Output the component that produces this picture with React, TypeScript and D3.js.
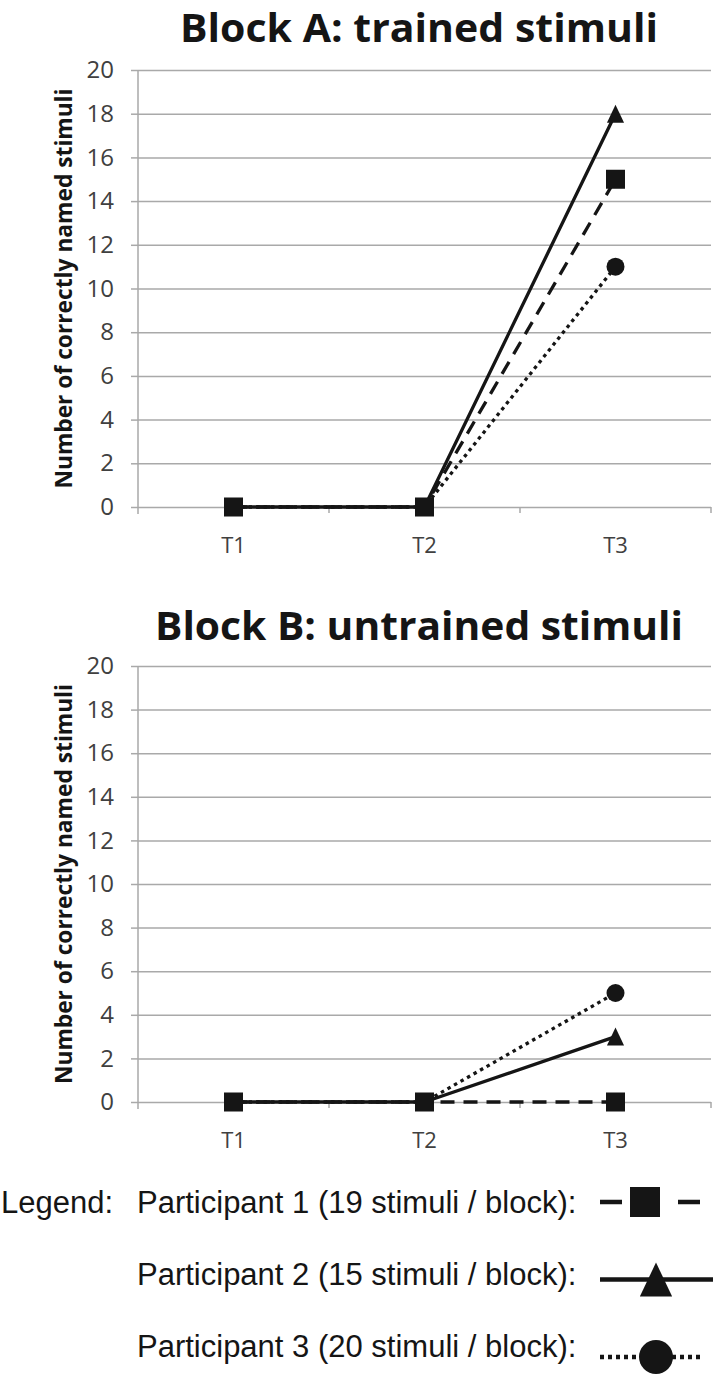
import React, { useRef, useEffect } from 'react';
import * as d3 from 'd3';

// categories on the x axis and the y ticks
const categories = ['T1', 'T2', 'T3'];
const yTicks = [0, 2, 4, 6, 8, 10, 12, 14, 16, 18, 20];

// Block A: trained stimuli
const blockA_p1 = [0, 0, 15];
const blockA_p2 = [0, 0, 18];
const blockA_p3 = [0, 0, 11];

// Block B: untrained stimuli
const blockB_p1 = [0, 0, 0];
const blockB_p2 = [0, 0, 3];
const blockB_p3 = [0, 0, 5];

const legendLabels = [
    'Participant 1 (19 stimuli / block):',
    'Participant 2 (15 stimuli / block):',
    'Participant 3 (20 stimuli / block):'
];

const INK = '#151515';
const GRID = '#a9a9a9';
const CHART_FONT = '"Open Sans", "DejaVu Sans", sans-serif';
const LEGEND_FONT = '"Liberation Sans", Arial, sans-serif';

// line style and marker per participant (index 0..2)
const lineStyles = [
    { dash: '14,9', marker: 'square' },
    { dash: null, marker: 'triangle' },
    { dash: '3.5,4', marker: 'circle' }
];

const triPath = (w, h) => `M0,${-h / 2}L${w / 2},${h / 2}L${-w / 2},${h / 2}Z`;

const drawMarker = (g, type, cx, cy, size) => {
    if (type === 'square') {
        g.append('rect')
            .attr('x', cx - size / 2).attr('y', cy - size / 2)
            .attr('width', size).attr('height', size)
            .attr('fill', INK);
    } else if (type === 'triangle') {
        g.append('path')
            .attr('d', triPath(size * 0.95, size))
            .attr('transform', `translate(${cx},${cy})`)
            .attr('fill', INK);
    } else {
        g.append('circle')
            .attr('cx', cx).attr('cy', cy).attr('r', size / 2)
            .attr('fill', INK);
    }
};

const drawPanel = (svg, { title, titleLen, titleY, top, bottom, series }) => {
    const left = 138;
    const right = 711;
    const x = d3.scaleBand().domain(categories).range([left, right]);
    const y = d3.scaleLinear().domain([0, 20]).range([bottom, top]);
    const cx = d => x(d) + x.bandwidth() / 2;

    const g = svg.append('g');

    // title
    g.append('text')
        .attr('x', 419).attr('y', titleY)
        .attr('text-anchor', 'middle')
        .attr('font-family', CHART_FONT)
        .attr('font-weight', 700)
        .attr('font-size', 39)
        .attr('textLength', titleLen)
        .attr('lengthAdjust', 'spacingAndGlyphs')
        .attr('fill', INK)
        .text(title);

    // gridlines
    g.append('g')
        .attr('transform', `translate(${left},0)`)
        .call(d3.axisLeft(y).tickValues(yTicks).tickSize(-(right - left)).tickSizeOuter(0).tickFormat(''))
        .call(a => a.select('.domain').remove())
        .call(a => a.selectAll('line').attr('stroke', GRID).attr('stroke-width', 1.5));

    // y ticks + labels
    g.append('g')
        .attr('transform', `translate(${left},0)`)
        .call(d3.axisLeft(y).tickValues(yTicks).tickSize(7).tickSizeOuter(0).tickPadding(17))
        .call(a => a.select('.domain').remove())
        .call(a => a.selectAll('line').attr('stroke', GRID).attr('stroke-width', 1.5))
        .call(a => a.selectAll('text')
            .attr('font-family', CHART_FONT)
            .attr('font-size', 24)
            .attr('fill', '#404040'));

    // y axis line, runs a bit below zero
    g.append('line')
        .attr('x1', left).attr('x2', left)
        .attr('y1', y(20)).attr('y2', y(0) + 7)
        .attr('stroke', GRID).attr('stroke-width', 1.5);

    // x ticks at category boundaries
    const bounds = categories.map(c => x(c)).concat([right]);
    g.selectAll('line.xtick').data(bounds.slice(1)).join('line')
        .attr('class', 'xtick')
        .attr('x1', d => d).attr('x2', d => d)
        .attr('y1', y(0)).attr('y2', y(0) + 6)
        .attr('stroke', GRID).attr('stroke-width', 1.5);

    // x labels
    g.selectAll('text.xlab').data(categories).join('text')
        .attr('class', 'xlab')
        .attr('x', cx).attr('y', y(0) + 46)
        .attr('text-anchor', 'middle')
        .attr('font-family', CHART_FONT)
        .attr('font-size', 22)
        .attr('fill', '#404040')
        .text(d => d);

    // y axis title
    g.append('text')
        .attr('transform', `translate(72,${(y(0) + y(20)) / 2}) rotate(-90)`)
        .attr('text-anchor', 'middle')
        .attr('font-family', CHART_FONT)
        .attr('font-weight', 700)
        .attr('font-size', 24)
        .attr('textLength', 400)
        .attr('lengthAdjust', 'spacingAndGlyphs')
        .attr('fill', INK)
        .text('Number of correctly named stimuli');

    const line = d3.line().x((_, i) => cx(categories[i])).y(d => y(d));

    // lines: dashed, dotted, then solid on top
    [0, 2, 1].forEach(k => {
        g.append('path')
            .attr('d', line(series[k]))
            .attr('fill', 'none')
            .attr('stroke', INK)
            .attr('stroke-width', 3.3)
            .attr('stroke-dasharray', lineStyles[k].dash)
            .attr('stroke-linejoin', 'round');
    });

    // markers: circle, triangle, square on top
    [2, 1, 0].forEach(k => {
        series[k].forEach((v, i) => {
            const size = lineStyles[k].marker === 'square' ? 19 : 18;
            drawMarker(g, lineStyles[k].marker, cx(categories[i]), y(v), size);
        });
    });
};

const App = () => {
    const ref = useRef(null);

    useEffect(() => {
        const svg = d3.select(ref.current);
        svg.selectAll('*').remove();

        drawPanel(svg, {
            title: 'Block A: trained stimuli',
            titleLen: 478,
            titleY: 42,
            top: 70,
            bottom: 507,
            series: [blockA_p1, blockA_p2, blockA_p3]
        });

        drawPanel(svg, {
            title: 'Block B: untrained stimuli',
            titleLen: 528,
            titleY: 640,
            top: 666,
            bottom: 1102,
            series: [blockB_p1, blockB_p2, blockB_p3]
        });

        // legend
        const textY = d3.scalePoint().domain(legendLabels).range([1213, 1357]);
        const markY = d3.scalePoint().domain(legendLabels).range([1202, 1357]);
        const lg = svg.append('g');

        lg.append('text')
            .attr('x', 1).attr('y', textY(legendLabels[0]))
            .attr('font-family', LEGEND_FONT).attr('font-size', 31)
            .attr('fill', INK)
            .text('Legend:');

        lg.selectAll('text.lab').data(legendLabels).join('text')
            .attr('class', 'lab')
            .attr('x', 137).attr('y', d => textY(d))
            .attr('font-family', LEGEND_FONT).attr('font-size', 31)
            .attr('fill', INK)
            .text(d => d);

        const legendDash = ['22,56', null, '4,4'];
        const legendSize = [30, 34, 34];
        legendLabels.forEach((d, k) => {
            const my = markY(d);
            lg.append('line')
                .attr('x1', 600).attr('x2', k === 1 ? 713 : 704)
                .attr('y1', my).attr('y2', my)
                .attr('stroke', INK).attr('stroke-width', 4.5)
                .attr('stroke-dasharray', legendDash[k]);
            drawMarker(lg, lineStyles[k].marker, k === 0 ? 645 : 656, my, legendSize[k]);
        });
    }, []);

    return (
        <svg ref={ref} width={720} height={1380}
            style={{ position: 'absolute', left: 0, top: 0, background: '#fff' }} />
    );
};

export default App;
